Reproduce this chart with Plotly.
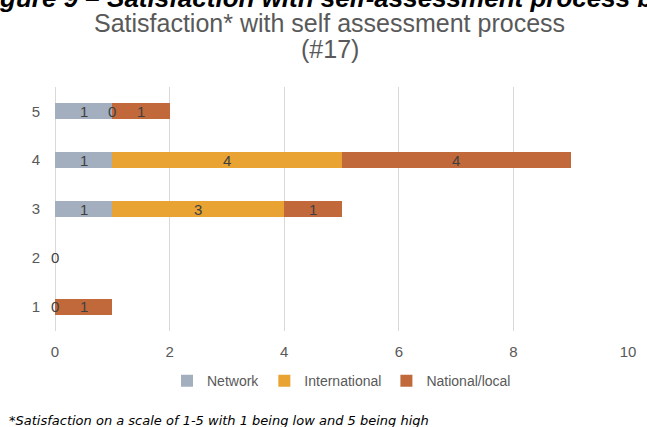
import plotly.graph_objects as go

# Satisfaction scores (1 = low, 5 = high) and respondent counts per organisation type
scores = ["1", "2", "3", "4", "5"]
network = [0, 0, 1, 1, 1]
international = [None, None, 3, 4, 0]
national_local = [1, None, 1, 4, 1]

series = [
    ("Network", network, "#A3AFBE"),
    ("International", international, "#E8A332"),
    ("National/local", national_local, "#C1693B"),
]

x_ticks = [0, 2, 4, 6, 8, 10]

GRAY = "#595959"
FONT = "Liberation Sans, Arial, sans-serif"

fig = go.Figure()
for name, vals, color in series:
    fig.add_trace(go.Bar(
        name=name,
        y=scores,
        x=[v if v is not None else 0 for v in vals],
        orientation="h",
        marker=dict(color=color, line=dict(width=0)),
        width=0.33,
        hoverinfo="x+name",
    ))

# Value labels centred on each segment of the stacked bars
annotations = []
cum = [0.0] * len(scores)
for name, vals, color in series:
    for i, v in enumerate(vals):
        if v is None:
            continue
        annotations.append(dict(
            x=cum[i] + v / 2, y=i, xref="x", yref="y",
            text=str(v), showarrow=False,
            font=dict(family=FONT, size=15, color="#404040"),
            xanchor="center", yanchor="middle",
        ))
        cum[i] += v

# Chart title (two lines)
for line, shift in [("Satisfaction* with self assessment process", 64), ("(#17)", 38)]:
    annotations.append(dict(
        x=0.5, y=1.0, xref="paper", yref="paper",
        xshift=-12, yshift=shift,
        text=line, showarrow=False,
        font=dict(family=FONT, size=25, color=GRAY),
        xanchor="center", yanchor="middle",
    ))

# Figure caption running off the top edge of the page
annotations.append(dict(
    x=0, y=1, xref="paper", yref="paper",
    xshift=-80, yshift=89,
    text="<b><i>Figure 9 – Satisfaction with self-assessment process by type of organisation</i></b>",
    showarrow=False,
    font=dict(family="Liberation Sans, Arial, sans-serif", size=26, color="#000000"),
    xanchor="left", yanchor="middle",
))

# Footnote
annotations.append(dict(
    x=0, y=0, xref="paper", yref="paper",
    xshift=-48, yshift=-89,
    text="<i>*Satisfaction on a scale of 1-5 with 1 being low and 5 being high</i>",
    showarrow=False,
    font=dict(family="DejaVu Sans, sans-serif", size=13, color="#000000"),
    xanchor="left", yanchor="middle",
))

fig.update_layout(
    width=647, height=427,
    margin=dict(l=55, r=11, t=87, b=96),
    paper_bgcolor="white", plot_bgcolor="white",
    barmode="stack",
    bargap=0.67,
    showlegend=True,
    legend=dict(
        orientation="h", x=0.5, xanchor="center", y=-0.14, yanchor="top",
        font=dict(family=FONT, size=14, color=GRAY),
        itemwidth=30, traceorder="normal",
        itemsizing="constant",
    ),
    annotations=annotations,
    xaxis=dict(
        range=[0, 10], tickvals=x_ticks, ticktext=[str(t) for t in x_ticks],
        showgrid=True, gridcolor="#D9D9D9", gridwidth=1,
        zeroline=True, zerolinecolor="#D9D9D9", zerolinewidth=1,
        showline=False, ticks="", ticklabelstandoff=10,
        tickfont=dict(family=FONT, size=15, color=GRAY),
        fixedrange=True,
    ),
    yaxis=dict(
        categoryorder="array", categoryarray=scores,
        showgrid=False, zeroline=False, showline=False, ticks="",
        ticklabelstandoff=14,
        tickfont=dict(family=FONT, size=15, color=GRAY),
        fixedrange=True,
    ),
)

fig.write_html("out.html")
